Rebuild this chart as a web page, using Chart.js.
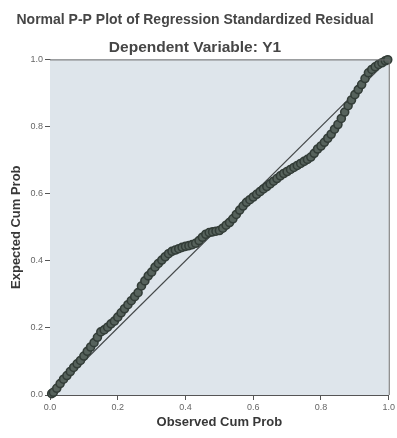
<!DOCTYPE html>
<html><head><meta charset="utf-8">
<script src="https://cdn.jsdelivr.net/npm/chart.js@4/dist/chart.umd.min.js"></script>
<style>html,body{margin:0;padding:0;background:#fff;}#wrap{width:397px;height:438px;}</style>
</head><body><div id="wrap"><canvas id="c" width="397" height="438"></canvas></div>
<script>
const observedCumProb = [0.005,0.01,0.02,0.03,0.04,0.05,0.06,0.07,0.08,0.09,0.10,0.11,0.12,0.13,0.14,0.15,0.16,0.17,0.18,0.19,0.20,0.21,0.22,0.23,0.24,0.25,0.26,0.27,0.28,0.29,0.30,0.31,0.32,0.33,0.34,0.35,0.36,0.37,0.38,0.39,0.40,0.41,0.42,0.43,0.44,0.45,0.46,0.47,0.48,0.49,0.50,0.51,0.52,0.53,0.54,0.55,0.56,0.57,0.58,0.59,0.60,0.61,0.62,0.63,0.64,0.65,0.66,0.67,0.68,0.69,0.70,0.71,0.72,0.73,0.74,0.75,0.76,0.77,0.78,0.79,0.80,0.81,0.82,0.83,0.84,0.85,0.86,0.87,0.88,0.89,0.90,0.91,0.92,0.93,0.94,0.95,0.96,0.97,0.98,0.99,0.997];
const expectedCumProb = [0.004,0.008,0.020,0.034,0.047,0.058,0.070,0.082,0.093,0.103,0.116,0.130,0.143,0.156,0.172,0.188,0.194,0.202,0.212,0.220,0.232,0.245,0.257,0.269,0.281,0.293,0.305,0.325,0.340,0.355,0.366,0.381,0.392,0.402,0.412,0.421,0.428,0.432,0.436,0.440,0.443,0.445,0.448,0.452,0.460,0.470,0.479,0.484,0.486,0.488,0.490,0.497,0.506,0.514,0.525,0.538,0.551,0.563,0.574,0.582,0.590,0.598,0.606,0.614,0.621,0.629,0.637,0.645,0.653,0.660,0.666,0.672,0.678,0.684,0.690,0.696,0.702,0.709,0.720,0.733,0.742,0.753,0.765,0.777,0.792,0.806,0.824,0.843,0.862,0.879,0.895,0.910,0.925,0.943,0.960,0.970,0.978,0.985,0.990,0.996,0.999];
const diagonalX = [0, 1];
const diagonalY = [0, 1];
const tickValues = [0, 0.2, 0.4, 0.6, 0.8, 1.0];
const titleText = 'Normal P-P Plot of Regression Standardized Residual';
const subtitleText = 'Dependent Variable: Y1';
const xAxisTitle = 'Observed Cum Prob';
const yAxisTitle = 'Expected Cum Prob';

const pointsData = observedCumProb.map((x, i) => ({x: x, y: expectedCumProb[i]}));
const lineData = diagonalX.map((x, i) => ({x: x, y: diagonalY[i]}));

const plotFrame = {
  id: 'plotFrame',
  beforeDatasetsDraw(chart) {
    const {ctx, chartArea: a} = chart;
    ctx.save();
    ctx.fillStyle = '#dee5eb';
    ctx.fillRect(a.left, a.top, a.right - a.left, a.bottom - a.top);
    ctx.restore();
  },
  afterDraw(chart) {
    const {ctx, chartArea: a} = chart;
    ctx.save();
    ctx.strokeStyle = '#6a6a6a';
    ctx.lineWidth = 1;
    ctx.beginPath();
    ctx.moveTo(a.left, a.top + 0.5);
    ctx.lineTo(a.right + 0.5, a.top + 0.5);
    ctx.lineTo(a.right + 0.5, a.bottom);
    ctx.stroke();
    ctx.restore();
  }
};

const tickCb = v => Number(v).toFixed(1);

new Chart(document.getElementById('c'), {
  data: {
    datasets: [
      {type: 'scatter', data: pointsData, pointRadius: 4, pointHoverRadius: 4,
       borderColor: '#333d38', backgroundColor: '#56625c', borderWidth: 1.6, clip: false},
      {type: 'line', data: lineData, borderColor: '#45494a', borderWidth: 1.2, pointRadius: 0, clip: false}
    ]
  },
  options: {
    responsive: false,
    devicePixelRatio: 1,
    animation: false,
    layout: {padding: {left: 0, right: 7, top: 0, bottom: 0}},
    plugins: {
      legend: {display: false},
      tooltip: {enabled: false},
      title: {display: true, text: titleText, color: '#464646', font: {family: 'Liberation Sans', size: 14, weight: 'bold'}, padding: {top: 12, bottom: 4}},
      subtitle: {display: true, text: subtitleText, color: '#464646', font: {family: 'Liberation Sans', size: 15.5, weight: 'bold'}, padding: {top: 5.5, bottom: 2.5}}
    },
    scales: {
      x: {
        type: 'linear', min: 0, max: 1,
        afterBuildTicks: s => { s.ticks = tickValues.map(v => ({value: v})); },
        afterFit: s => { s.height = 43; },
        ticks: {callback: tickCb, color: '#666', padding: 2, maxRotation: 0, font: {family: 'Liberation Sans', size: 9}},
        grid: {drawOnChartArea: false, drawTicks: true, tickLength: 5, color: '#555'},
        border: {color: '#555', width: 1},
        title: {display: true, text: xAxisTitle, color: '#383838', font: {family: 'Liberation Sans', size: 13, weight: 'bold'}, padding: {top: 0, bottom: 8}}
      },
      y: {
        type: 'linear', min: 0, max: 1,
        afterBuildTicks: s => { s.ticks = tickValues.map(v => ({value: v})); },
        afterFit: s => { s.width = 50; },
        ticks: {callback: tickCb, color: '#666', padding: 2, font: {family: 'Liberation Sans', size: 9}},
        grid: {drawOnChartArea: false, drawTicks: true, tickLength: 5, color: '#555'},
        border: {color: '#555', width: 1},
        title: {display: true, text: yAxisTitle, color: '#383838', font: {family: 'Liberation Sans', size: 13, weight: 'bold'}, padding: {top: 8.4, bottom: 0}}
      }
    }
  },
  plugins: [plotFrame]
});
</script>
</body></html>
